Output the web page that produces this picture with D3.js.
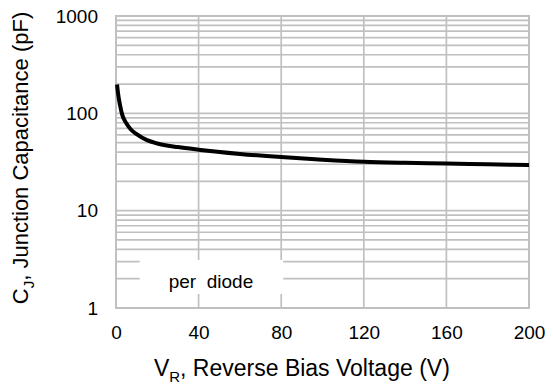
<!DOCTYPE html>
<html>
<head>
<meta charset="utf-8">
<script src="https://cdn.jsdelivr.net/npm/d3@7"></script>
<style>
  body { margin: 0; background: #fff; }
  text { font-family: "Liberation Sans", Arial, sans-serif; fill: #000; }
</style>
</head>
<body>
<div id="chart"></div>
<script>
// data
const reverseVoltage = [0.5, 1, 2, 3, 5, 7, 10, 15, 20, 30, 40, 60, 80, 100, 120, 140, 160, 180, 200];
const capacitance = [198, 160, 120, 97, 79, 69, 61, 53, 49, 45, 42.3, 38.3, 35.5, 33.4, 31.8, 31, 30.5, 29.9, 29.4];

const xTicks = [0, 40, 80, 120, 160, 200];
const yTicks = [1, 10, 100, 1000];
const noteLabel = 'per  diode';

// settings
const width = 553;
const height = 387;
const margin = { top: 16, right: 24, bottom: 79, left: 116 };
const gridColor = '#c0c0c0';
const tickFont = 19;
const titleFont = 22;

const svg = d3.select('#chart')
  .append('svg')
  .attr('width', width)
  .attr('height', height);

const x = d3.scaleLinear()
  .domain([0, 200])
  .range([margin.left, width - margin.right]);

const y = d3.scaleLog()
  .domain([1, 1000])
  .range([height - margin.bottom, margin.top]);

// minor + major horizontal grid lines
const hLines = [];
for (let dec = 1; dec < 1000; dec *= 10) {
  for (let k = 1; k < 10; k++) hLines.push(dec * k);
}
hLines.push(1000);

const grid = svg.append('g');
grid.selectAll('line.h')
  .data(hLines)
  .join('line')
  .attr('class', 'h')
  .attr('x1', x(0))
  .attr('x2', x(200))
  .attr('y1', d => y(d))
  .attr('y2', d => y(d))
  .attr('stroke', gridColor)
  .attr('stroke-width', 1.7);

grid.selectAll('line.v')
  .data(xTicks)
  .join('line')
  .attr('class', 'v')
  .attr('x1', d => x(d))
  .attr('x2', d => x(d))
  .attr('y1', y(1))
  .attr('y2', y(1000))
  .attr('stroke', gridColor)
  .attr('stroke-width', 1.7);

svg.append('rect')
  .attr('x', x(0))
  .attr('y', y(1000))
  .attr('width', x(200) - x(0))
  .attr('height', y(1) - y(1000))
  .attr('fill', 'none')
  .attr('stroke', gridColor)
  .attr('stroke-width', 2);

// label box that blanks out the grid
const noteBox = svg.append('g');
noteBox.append('rect')
  .attr('x', x(11.5))
  .attr('y', 260)
  .attr('width', x(81) - x(11.5))
  .attr('height', 34)
  .attr('fill', '#fff');
noteBox.append('text')
  .attr('x', x(46))
  .attr('y', 288)
  .attr('text-anchor', 'middle')
  .attr('font-size', tickFont)
  .attr('xml:space', 'preserve')
  .style('white-space', 'pre')
  .text(noteLabel);

// curve
const line = d3.line()
  .x((d, i) => x(reverseVoltage[i]))
  .y(d => y(d))
  .curve(d3.curveMonotoneX);

svg.append('path')
  .datum(capacitance)
  .attr('d', line)
  .attr('fill', 'none')
  .attr('stroke', '#000')
  .attr('stroke-width', 4);

// axes
const xAxis = svg.append('g')
  .attr('transform', `translate(0, ${y(1)})`)
  .call(d3.axisBottom(x).tickValues(xTicks).tickSize(0).tickPadding(18));
xAxis.select('.domain').remove();
xAxis.selectAll('text')
  .attr('font-size', tickFont)
  .style('font-family', '"Liberation Sans", Arial, sans-serif');

const yAxis = svg.append('g')
  .attr('transform', `translate(${x(0)}, 0)`)
  .call(d3.axisLeft(y).tickValues(yTicks).tickFormat(d3.format('d')).tickSize(0).tickPadding(18));
yAxis.select('.domain').remove();
yAxis.selectAll('text')
  .attr('font-size', tickFont)
  .style('font-family', '"Liberation Sans", Arial, sans-serif');

// axis titles
const xTitle = svg.append('text')
  .attr('x', x(90))
  .attr('y', 376)
  .attr('text-anchor', 'middle')
  .attr('font-size', 23);
xTitle.append('tspan').text('V');
xTitle.append('tspan').attr('font-size', 15).attr('dy', 6).text('R');
xTitle.append('tspan').attr('dy', -6).text(', Reverse Bias Voltage (V)');

const yTitle = svg.append('text')
  .attr('transform', `translate(28, ${(y(1) + y(1000)) / 2 - 4}) rotate(-90)`)
  .attr('text-anchor', 'middle')
  .attr('font-size', titleFont);
yTitle.append('tspan').text('C');
yTitle.append('tspan').attr('font-size', 15).attr('dy', 6).text('J');
yTitle.append('tspan').attr('dy', -6).text(', Junction Capacitance (pF)');
</script>
</body>
</html>
